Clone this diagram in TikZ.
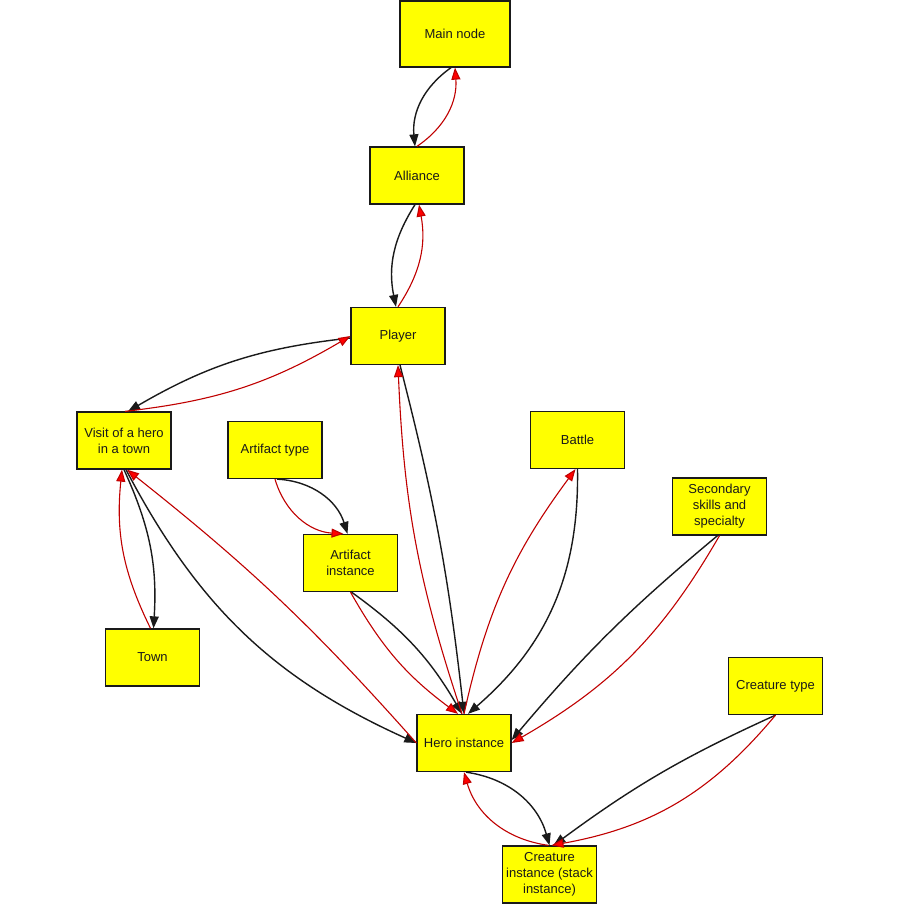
\documentclass[tikz,border=0pt]{standalone}
\usepackage{fontspec}
\setmainfont{Liberation Sans}
\usetikzlibrary{arrows.meta}
\definecolor{boxyellow}{HTML}{FFFF00}
\definecolor{edgeblack}{HTML}{1A1A1A}
\definecolor{edgered}{HTML}{C00000}
\definecolor{tipred}{HTML}{FF0000}
\begin{document}
\begin{tikzpicture}[x=1pt,y=1pt,
  box/.style={draw=edgeblack, line width=1.3pt, fill=boxyellow, minimum width=94pt, minimum height=57pt, inner sep=2pt, align=center, text=edgeblack, font=\fontsize{13}{16}\selectfont},
  blk/.style={draw=edgeblack, line width=1.4pt, -{Triangle[length=12pt,width=9pt]}},
  rd/.style={draw=edgered, line width=1.1pt, -{Triangle[length=12pt,width=9pt,fill=tipred]}},
]
\fill[white] (0,0) rectangle (900,-920);
\useasboundingbox (0,0) rectangle (900,-920);

\node[box, minimum width=110pt, minimum height=66pt] (main) at (455,-34) {Main node};
\node[box] (alliance) at (417,-175.5) {Alliance};
\node[box] (player) at (398,-336) {Player};
\node[box] (visit) at (124,-440.5) {Visit of a hero\\in a town};
\node[box] (atype) at (275,-450) {Artifact type};
\node[box] (battle) at (577.5,-440) {Battle};
\node[box] (sec) at (719.5,-506.5) {Secondary\\skills and\\specialty};
\node[box] (ainst) at (350.5,-563) {Artifact\\instance};
\node[box] (town) at (152.5,-657.5) {Town};
\node[box] (ctype) at (775.5,-686) {Creature type};
\node[box] (hero) at (464,-743) {Hero instance};
\node[box] (cinst) at (549.5,-874.5) {Creature\\instance (stack\\instance)};

% Main node <-> Alliance
\draw[blk] ([xshift=-4pt]main.south) to[bend right=30] ([xshift=-2pt]alliance.north);
\draw[rd] (alliance.north) to[bend right=30] (main.south);
% Alliance <-> Player
\draw[blk] ([xshift=-2pt]alliance.south) to[bend right=22] ([xshift=-2pt]player.north);
\draw[rd] (player.north) to[bend right=22] ([xshift=2pt]alliance.south);
% Player <-> Visit
\draw[blk] ([yshift=-2pt]player.west) to[bend right=12] ([xshift=4pt]visit.north);
\draw[rd] ([xshift=1pt]visit.north) to[bend right=12] (player.west);
% Visit <-> Town
\draw[blk] (visit.south) to[bend left=14] ([xshift=1pt]town.north);
\draw[rd] ([xshift=-2pt]town.north) to[bend left=16] ([xshift=-2pt]visit.south);
% Visit <-> Hero
\draw[blk] ([xshift=2pt]visit.south) to[bend right=19] (hero.west);
\draw[rd] (hero.west) to[bend right=5] ([xshift=3pt]visit.south);
% Artifact type -> Artifact instance
\draw[blk] ([xshift=2pt]atype.south) to[bend left=35] ([xshift=-3pt]ainst.north);
\draw[rd] (atype.south) to[bend right=35] ([xshift=-7pt]ainst.north);
% Artifact instance -> Hero
\draw[blk] ([xshift=1pt]ainst.south) to[bend left=12] ([xshift=-2pt]hero.north);
\draw[rd] (ainst.south) to[bend right=12] ([xshift=-6pt]hero.north);
% Player <-> Hero
\draw[blk] ([xshift=2pt]player.south) to[bend left=4] ([xshift=0pt]hero.north);
\draw[rd] ([xshift=-2pt]hero.north) to[bend left=8] (player.south);
% Battle <-> Hero
\draw[rd] (hero.north) to[bend left=12] ([xshift=-2pt]battle.south);
\draw[blk] (battle.south) to[bend left=25] ([xshift=4pt]hero.north);
% Secondary -> Hero
\draw[blk] ([xshift=-2pt]sec.south) to[bend right=5] ([yshift=3pt]hero.east);
\draw[rd] (sec.south) to[bend left=15] (hero.east);
% Hero <-> Creature instance
\draw[blk] ([xshift=2pt]hero.south) to[bend left=33] (cinst.north);
\draw[rd] ([xshift=-1pt]cinst.north) to[bend left=33] (hero.south);
% Creature type -> Creature instance
\draw[blk] (ctype.south) to[bend right=6] ([xshift=4pt]cinst.north);
\draw[rd] (ctype.south) to[bend left=20] ([xshift=2pt]cinst.north);
\end{tikzpicture}
\end{document}
